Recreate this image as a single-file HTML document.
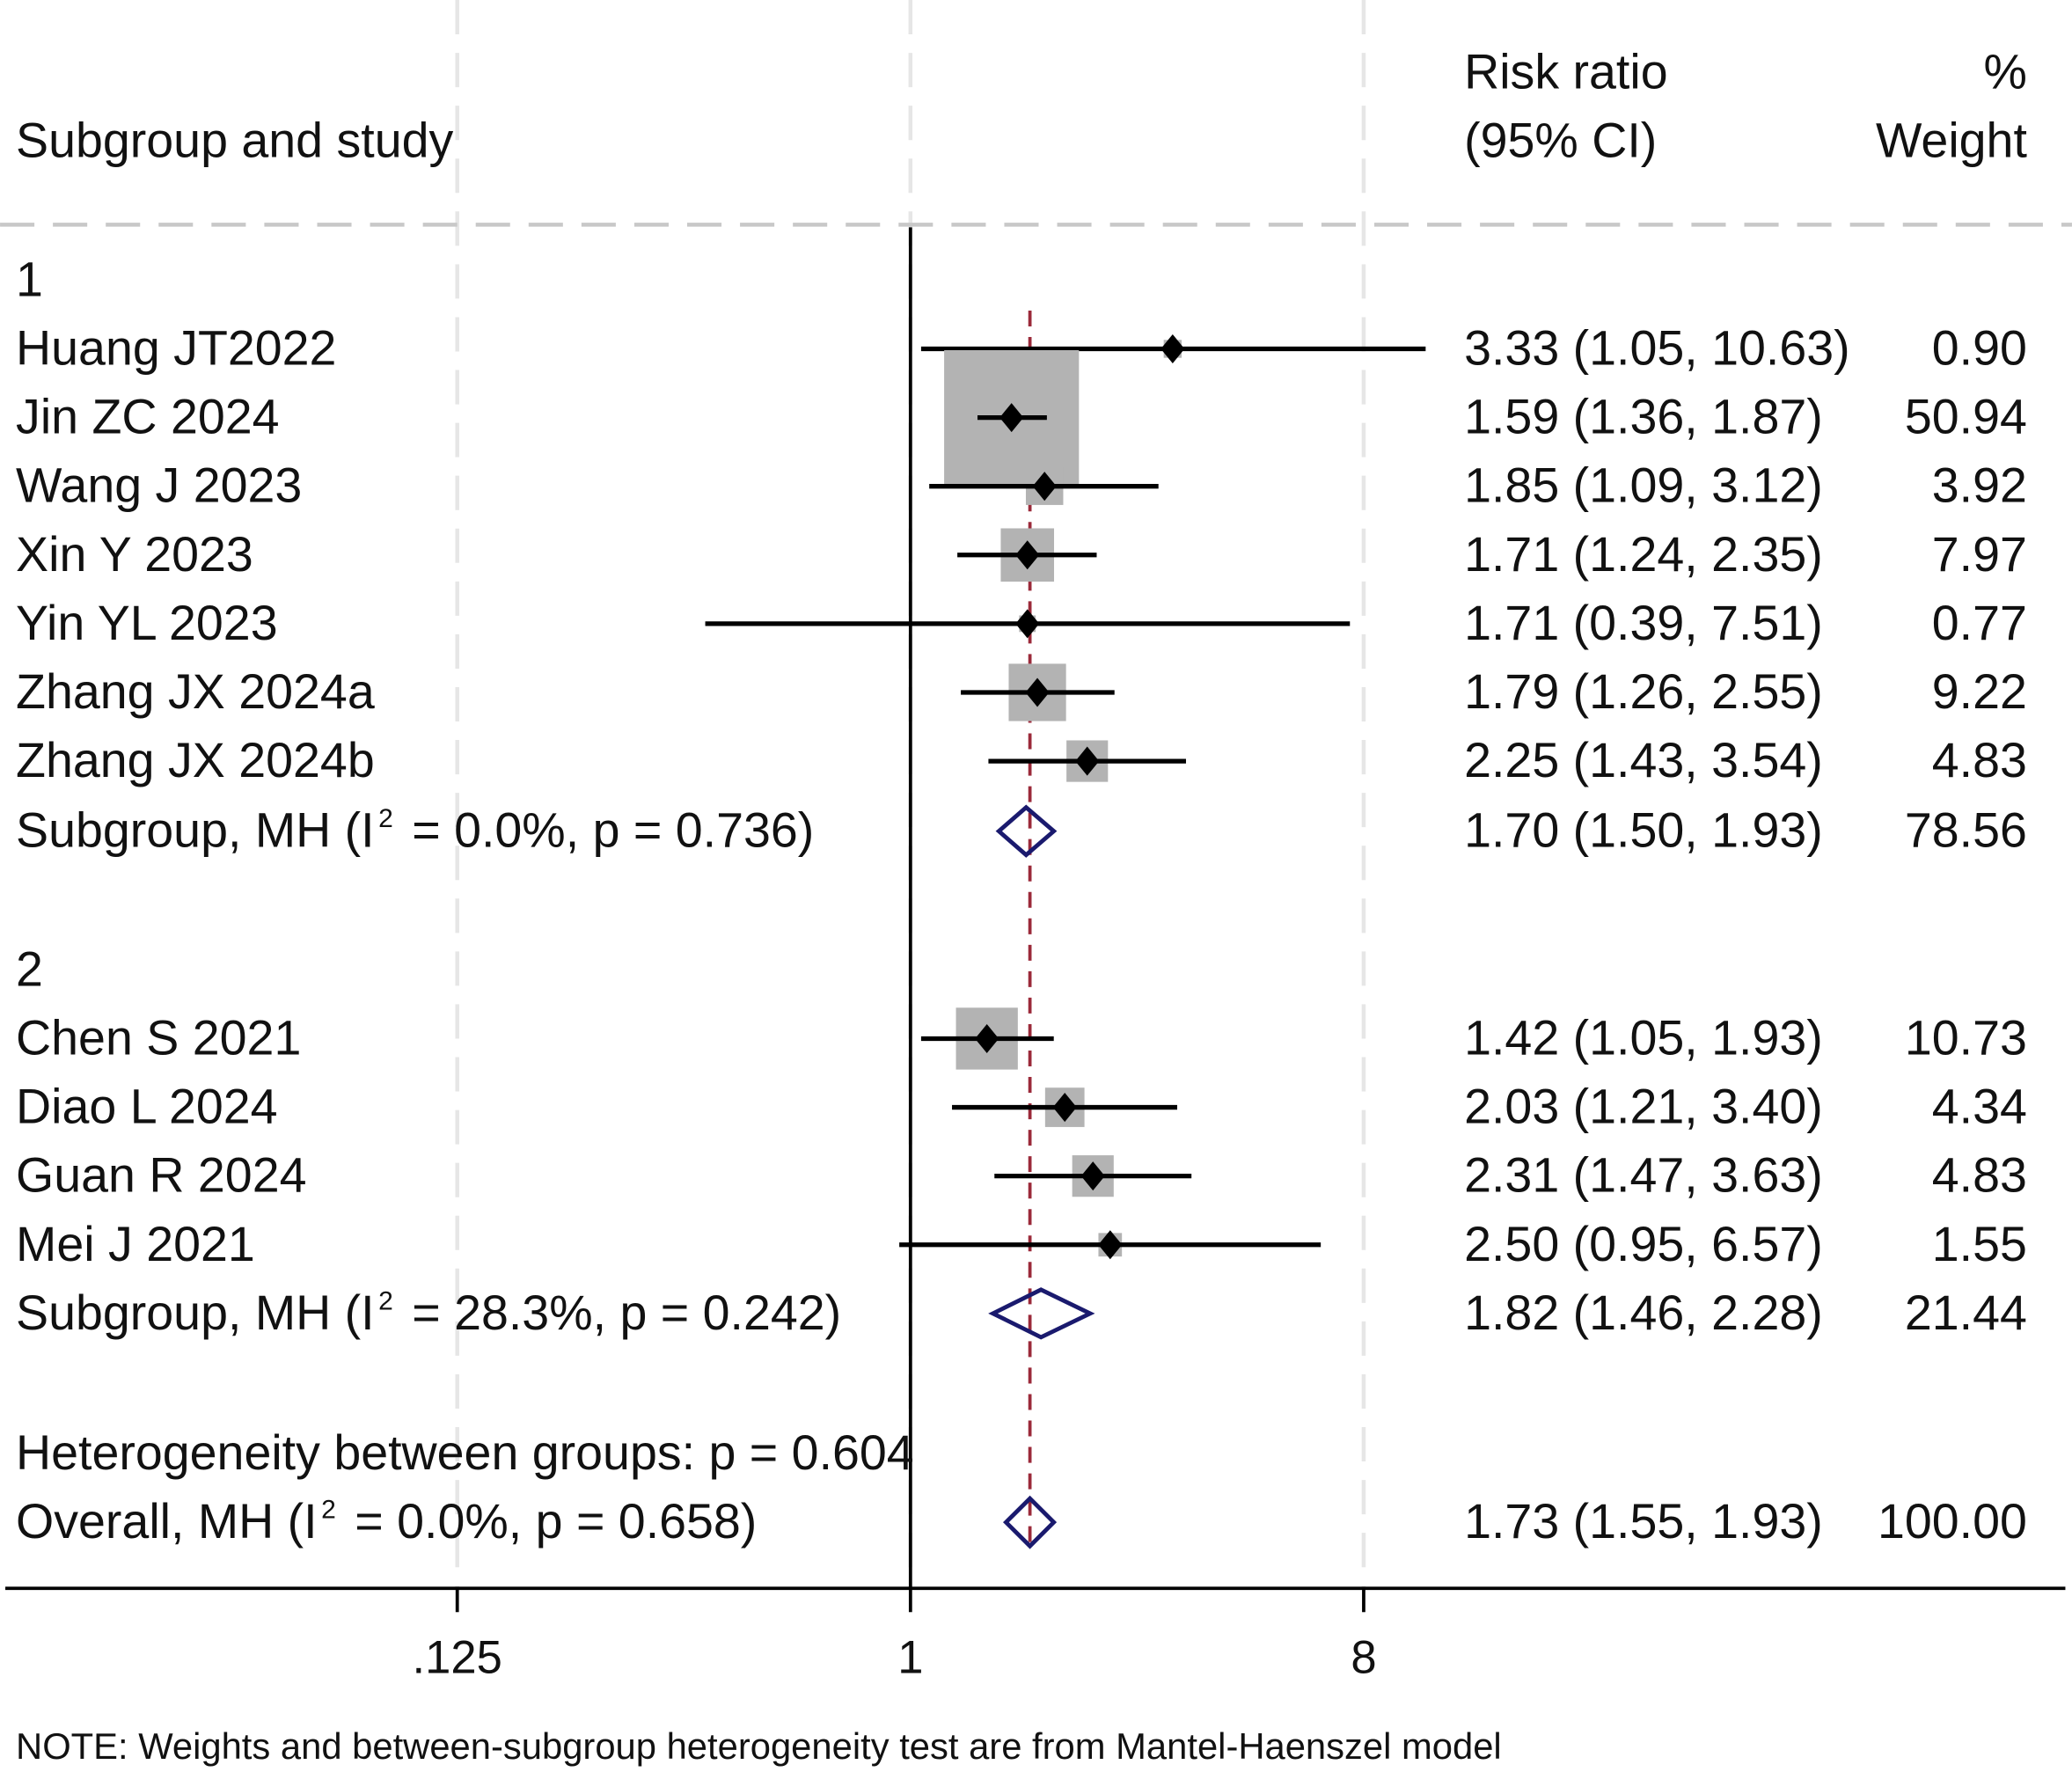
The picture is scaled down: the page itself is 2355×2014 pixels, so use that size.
<!DOCTYPE html>
<html><head><meta charset="utf-8">
<style>
html,body{margin:0;padding:0;background:#fff;}
svg{display:block;font-family:"Liberation Sans",Arial,sans-serif;}
</style></head>
<body>
<svg id="chart" width="2355" height="2014" viewBox="0 0 1568 1341" xmlns="http://www.w3.org/2000/svg">
<rect width="1568" height="1341" fill="#fff"/>
<g id="grid"></g>
<g id="marks"></g>
<g id="texts" font-size="37" fill="#111"></g>
</svg>
<script>
const studies = ["Huang JT2022","Jin ZC 2024","Wang J 2023","Xin Y 2023","Yin YL 2023","Zhang JX 2024a","Zhang JX 2024b","Chen S 2021","Diao L 2024","Guan R 2024","Mei J 2021"];
const groups = [1,1,1,1,1,1,1,2,2,2,2];
const rr = [3.33,1.59,1.85,1.71,1.71,1.79,2.25,1.42,2.03,2.31,2.50];
const lo = [1.05,1.36,1.09,1.24,0.39,1.26,1.43,1.05,1.21,1.47,0.95];
const hi = [10.63,1.87,3.12,2.35,7.51,2.55,3.54,1.93,3.40,3.63,6.57];
const wt = [0.90,50.94,3.92,7.97,0.77,9.22,4.83,10.73,4.34,4.83,1.55];
const subLabels = ["Subgroup, MH (I|2| = 0.0%, p = 0.736)","Subgroup, MH (I|2| = 28.3%, p = 0.242)"];
const subRR = [1.70,1.82], subLo=[1.50,1.46], subHi=[1.93,2.28], subWt=[78.56,21.44];
const overallRR = 1.73, overallLo = 1.55, overallHi = 1.93;
const tickVals = [0.125,1,8];
const tickLabels = [".125","1","8"];

const NS="http://www.w3.org/2000/svg";
const xs = v => 689 + 114.33*Math.log2(v);
const rowY = i => (groups[i]===1 ? 264+52*i : 786+52*(i-7));
function el(tag, attrs, parent){const e=document.createElementNS(NS,tag);for(const k in attrs)e.setAttribute(k,attrs[k]);parent.appendChild(e);return e;}
const grid=document.getElementById('grid'), marks=document.getElementById('marks'), texts=document.getElementById('texts');
const f2 = v => v.toFixed(2);

tickVals.forEach((v,i)=>{
  const l=el('line',{x1:xs(v),x2:xs(v),y1:0,y2:1202,stroke:'#e6e6e6','stroke-width':3,'stroke-dasharray':'26,14'},grid);
  
  
});
let hl=el('line',{x1:0,x2:1568,y1:170,y2:170,stroke:'#c8c8c8','stroke-width':3,'stroke-dasharray':'26,14'},grid);


let nl=el('line',{x1:689,x2:689,y1:172,y2:1202,stroke:'#000','stroke-width':2.5},grid);


let ol=el('line',{x1:xs(overallRR),x2:xs(overallRR),y1:235,y2:1175,stroke:'#9b2a3a','stroke-width':2.5,'stroke-dasharray':'12,8'},grid);


let ax=el('line',{x1:4,x2:1563,y1:1202,y2:1202,stroke:'#000','stroke-width':2.5},grid);


tickVals.forEach((v,i)=>{
  const t=el('line',{x1:xs(v),x2:xs(v),y1:1202,y2:1220,stroke:'#000','stroke-width':2.5},grid);
  
  
  const tl=el('text',{x:xs(v),y:1266,'text-anchor':'middle','font-size':35,fill:'#111'},grid);
  tl.textContent=tickLabels[i];
  
  
});

function txt(s,x,y,anchor,name,size){
  const t=el('text',{x:x,y:y,'text-anchor':anchor||'start'},texts);
  if(size)t.setAttribute('font-size',size);
  const parts=s.split('|');
  parts.forEach((p,i)=>{
    const ts=el('tspan',{},t);
    if(i%2===1){ts.setAttribute('font-size',20);ts.setAttribute('dy',-15);ts.setAttribute('dx',3);}
    else if(i>0){ts.setAttribute('dy',15);ts.setAttribute('dx',4);}
    ts.textContent=p;
  });
  
  
  return t;
}
const off=12;
txt("Risk ratio",1108,55+off,'start','header-risk-ratio');
txt("(95% CI)",1108,107+off,'start','header-ci');
txt("%",1534,55+off,'end','header-percent');
txt("Weight",1534,107+off,'end','header-weight');
txt("Subgroup and study",12,107+off,'start','header-study');
txt("1",12,212+off,'start','group-1-label');
txt("2",12,734+off,'start','group-2-label');

studies.forEach((s,i)=>{
  const y=rowY(i), side=102*Math.sqrt(wt[i]/50.94), cx=xs(rr[i]);
  const b=el('rect',{x:cx-side/2,y:y-side/2,width:side,height:side,fill:'#b3b3b3'},marks);
  
  
  const l=el('line',{x1:xs(lo[i]),x2:xs(hi[i]),y1:y,y2:y,stroke:'#000','stroke-width':3.5},marks);
  
  
  const p=el('polygon',{points:`${cx-9},${y} ${cx},${y-11} ${cx+9},${y} ${cx},${y+11}`,fill:'#000'},marks);
  
  
  txt(s,12,y+off,'start','study-label');
  txt(`${f2(rr[i])} (${f2(lo[i])}, ${f2(hi[i])})`,1108,y+off,'start','study-ci-text');
  txt(f2(wt[i]),1534,y+off,'end','study-weight');
});
function diamond(c,l,h,y,name){
  const d=el('polygon',{points:`${xs(l)},${y} ${xs(c)},${y-18} ${xs(h)},${y} ${xs(c)},${y+18}`,fill:'none',stroke:'#1a1a6e','stroke-width':3.2},marks);
  
  
}
[629,994].forEach((y,g)=>{
  diamond(subRR[g],subLo[g],subHi[g],y,'subgroup-diamond');
  txt(subLabels[g],12,y+off,'start','subgroup-label');
  txt(`${f2(subRR[g])} (${f2(subLo[g])}, ${f2(subHi[g])})`,1108,y+off,'start','subgroup-ci-text');
  txt(f2(subWt[g]),1534,y+off,'end','subgroup-weight');
});
diamond(overallRR,overallLo,overallHi,1152,'overall-diamond');
txt("Heterogeneity between groups: p = 0.604",12,1100+off,'start','heterogeneity-label');
txt("Overall, MH (I|2| = 0.0%, p = 0.658)",12,1152+off,'start','overall-label');
txt(`${f2(overallRR)} (${f2(overallLo)}, ${f2(overallHi)})`,1108,1152+off,'start','overall-ci-text');
txt("100.00",1534,1152+off,'end','overall-weight');
txt("NOTE: Weights and between-subgroup heterogeneity test are from Mantel-Haenszel model",12,1331,'start','footnote',27.8);
</script>
</body></html>
